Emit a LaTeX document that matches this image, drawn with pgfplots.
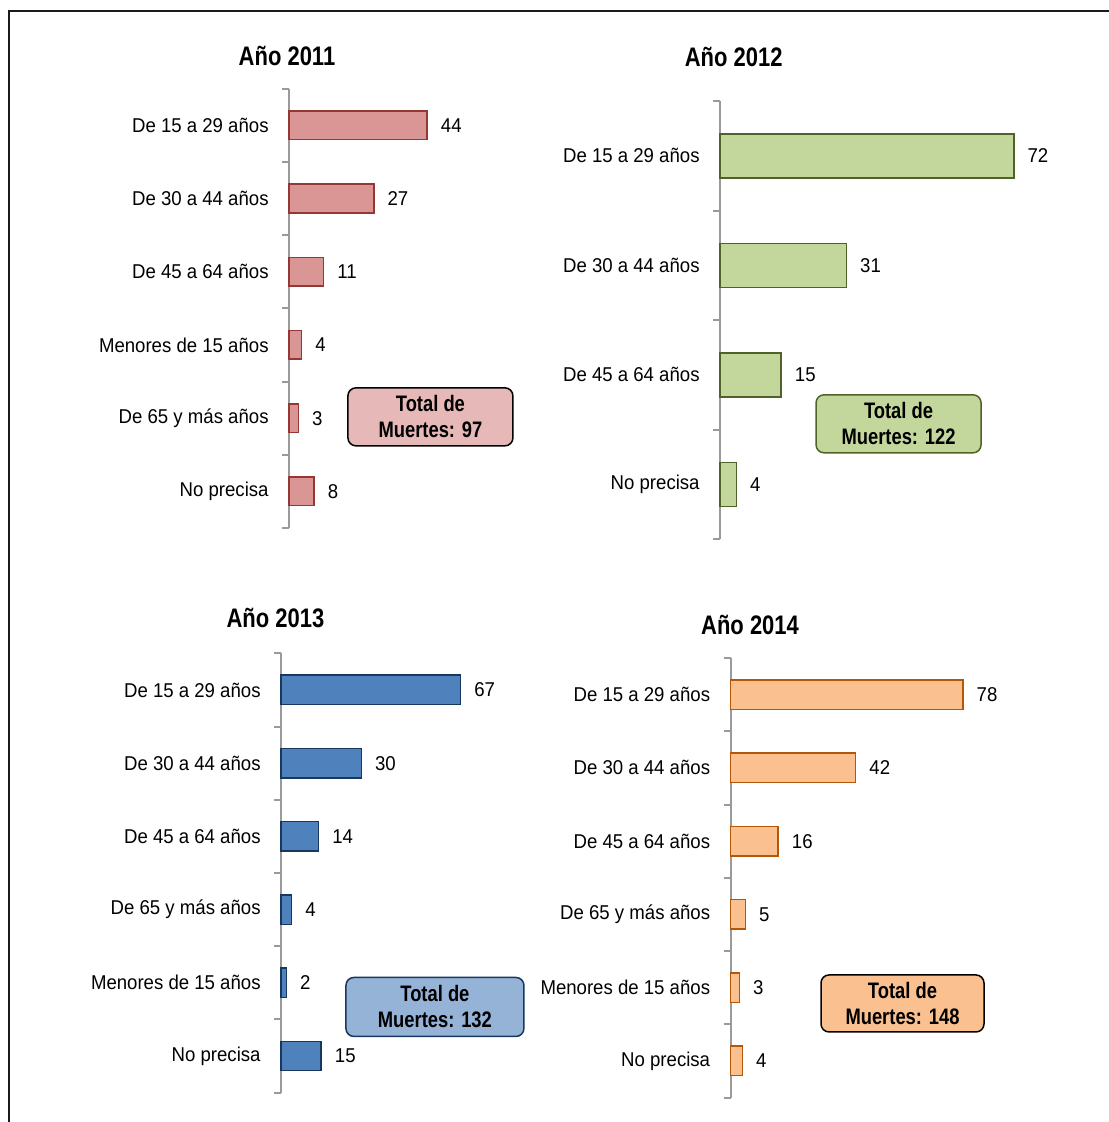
\documentclass[border=0pt]{standalone}
\usepackage{fontspec}
\setmainfont{Liberation Sans}[FakeStretch=0.93]
\newfontfamily\condfont{Liberation Sans}[FakeStretch=0.82]
\usepackage{pgfplots}
\pgfplotsset{compat=1.18}

\definecolor{axgray}{HTML}{9A9A9A}
\definecolor{marco}{HTML}{1A1A1A}
\definecolor{rojo}{HTML}{D99694}
\definecolor{rojoborde}{HTML}{953735}
\definecolor{rojocaja}{HTML}{E6B9B8}
\definecolor{verde}{HTML}{C3D69B}
\definecolor{verdeborde}{HTML}{4F6228}
\definecolor{azul}{HTML}{4F81BD}
\definecolor{azulborde}{HTML}{17375E}
\definecolor{azulcaja}{HTML}{95B3D7}
\definecolor{naranja}{HTML}{FAC090}
\definecolor{naranjaborde}{HTML}{B65708}

\newcommand\labfont{\fontsize{10}{12}\selectfont}
\newcommand\titfont{\condfont\fontsize{13.4}{16}\selectfont\bfseries}
\newcommand\cajafont{\condfont\fontsize{11.2}{13}\selectfont\bfseries}

\pgfplotsset{
  edad/.style={
    xbar, scale only axis, anchor=south west, clip=false,
    xmin=0, xmax=80, ymin=0.5, enlargelimits=false, y dir=reverse,
    axis x line=none, axis y line=left,
    axis line style={-, draw=axgray, line width=1pt},
    xtick=\empty,
    major tick length=0pt, minor tick length=3.5pt, tick align=outside,
    minor tick style={draw=axgray, line width=1pt},
    yticklabel style={font=\labfont, inner sep=0pt, xshift=-10pt},
    nodes near coords,
    every node near coord/.append style={font=\labfont, inner sep=0pt, xshift=6.5pt, text=black},
    /pgf/number format/assume math mode=true,
    title style={font=\titfont, anchor=center, yshift=-6pt},
    every axis plot/.append style={line width=0.75pt},
  },
}
\tikzset{caja/.style={line width=0.75pt, rounded corners=4pt, align=center, font=\cajafont, inner sep=0pt}}

\begin{document}
\begin{tikzpicture}
\useasboundingbox (0,0) rectangle (554pt,-561pt);
\draw[line width=1pt, draw=marco] (4.5pt,-580pt) -- (4.5pt,-5.5pt) -- (570pt,-5.5pt);

% Año 2011
\begin{axis}[edad, at={(144.5pt,-264pt)}, width=125.6pt, height=219.7pt,
  bar width=14.3pt, ymax=6.5,
  ytick={1,...,6}, minor ytick={0.5,1.5,...,6.5},
  yticklabels={De 15 a 29 años, De 30 a 44 años, De 45 a 64 años, Menores de 15 años, De 65 y más años, No precisa},
  title={Año 2011}, title style={at={(-0.008,1.074)}}]
\addplot[draw=rojoborde, fill=rojo] coordinates {(44,1) (27,2) (11,3) (4,4) (3,5) (8,6)};
\node[caja, draw=black, fill=rojocaja, minimum width=82.5pt, minimum height=29pt]
  at (axis description cs:0.563,0.253) {Total de\\Muertes: 97};
\end{axis}

% Año 2012
\begin{axis}[edad, at={(360pt,-269.5pt)}, width=163.2pt, height=219pt,
  bar width=22pt, ymax=4.5,
  ytick={1,...,4}, minor ytick={0.5,1.5,...,4.5},
  yticklabels={De 15 a 29 años, De 30 a 44 años, De 45 a 64 años, No precisa},
  title={Año 2012}, title style={at={(0.042,1.100)}}]
\addplot[draw=verdeborde, fill=verde] coordinates {(72,1) (31,2) (15,3) (4,4)};
\node[caja, draw=verdeborde, fill=verde, minimum width=82.5pt, minimum height=29pt]
  at (axis description cs:0.547,0.263) {Total de\\Muertes: 122};
\end{axis}

% Año 2013
\begin{axis}[edad, at={(140.5pt,-546.3pt)}, width=107.2pt, height=219.65pt,
  bar width=14.7pt, ymax=6.5,
  ytick={1,...,6}, minor ytick={0.5,1.5,...,6.5},
  yticklabels={De 15 a 29 años, De 30 a 44 años, De 45 a 64 años, De 65 y más años, Menores de 15 años, No precisa},
  title={Año 2013}, title style={at={(-0.026,1.0815)}}]
\addplot[draw=azulborde, fill=azul] coordinates {(67,1) (30,2) (14,3) (4,4) (2,5) (15,6)};
\node[caja, draw=azulborde, fill=azulcaja, minimum width=89pt, minimum height=29.5pt]
  at (axis description cs:0.718,0.195) {Total de\\Muertes: 132};
\end{axis}

% Año 2014
\begin{axis}[edad, at={(365.25pt,-548.75pt)}, width=119.2pt, height=219.75pt,
  bar width=14.7pt, ymax=6.5,
  ytick={1,...,6}, minor ytick={0.5,1.5,...,6.5},
  yticklabels={De 15 a 29 años, De 30 a 44 años, De 45 a 64 años, De 65 y más años, Menores de 15 años, No precisa},
  title={Año 2014}, title style={at={(0.082,1.075)}}]
\addplot[draw=naranjaborde, fill=naranja] coordinates {(78,1) (42,2) (16,3) (5,4) (3,5) (4,6)};
\node[caja, draw=black, fill=naranja, minimum width=81.5pt, minimum height=28.5pt]
  at (axis description cs:0.7215,0.214) {Total de\\Muertes: 148};
\end{axis}
\end{tikzpicture}
\end{document}
